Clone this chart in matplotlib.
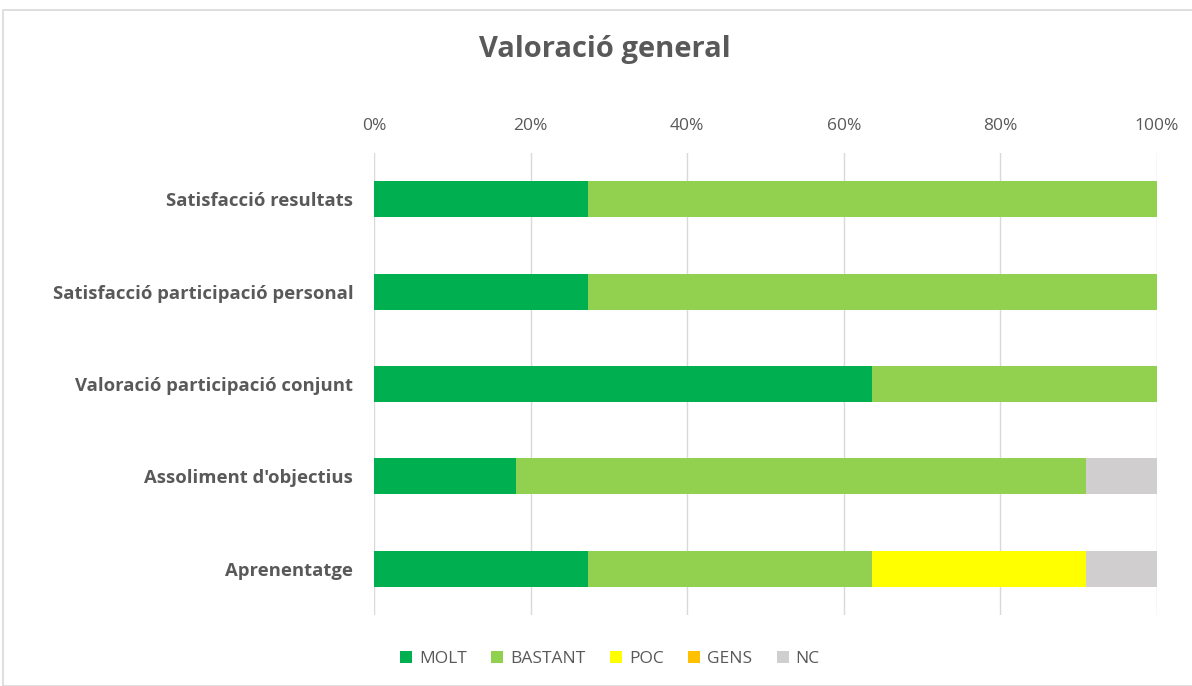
import matplotlib
matplotlib.use("Agg")
import matplotlib.pyplot as plt
from matplotlib.patches import Rectangle
import numpy as np

categories = ["Satisfacció resultats", "Satisfacció participació personal",
              "Valoració participació conjunt", "Assoliment d'objectius", "Aprenentatge"]
series_names = ["MOLT", "BASTANT", "POC", "GENS", "NC"]
molt = [3, 3, 7, 2, 3]
bastant = [8, 8, 4, 8, 4]
poc = [0, 0, 0, 0, 3]
gens = [0, 0, 0, 0, 0]
nc = [0, 0, 0, 1, 1]
colors = ["#00B050", "#92D050", "#FFFF00", "#FFC000", "#D0CECE"]
xticks = [0, 0.2, 0.4, 0.6, 0.8, 1.0]
xtick_labels = ["0%", "20%", "40%", "60%", "80%", "100%"]

plt.rcParams['font.family'] = ['Open Sans', 'DejaVu Sans']

fig = plt.figure(figsize=(11.92, 6.86), dpi=100)
fig.patches.append(Rectangle((3/1192, 0), 1.0, 1 - 10/686, transform=fig.transFigure,
                             fill=False, edgecolor="#D9D9D9", linewidth=1.2, zorder=0))
ax = fig.add_axes([374/1192, 1 - 615/686, 783/1192, 462/686])

data = np.array([molt, bastant, poc, gens, nc], dtype=float)
totals = data.sum(axis=0)
frac = data / totals
y = np.arange(len(categories))
left = np.zeros(len(categories))
for name, vals, c in zip(series_names, frac, colors):
    ax.barh(y, vals, left=left, height=0.39, color=c, label=name, zorder=3)
    left += vals

ax.set_xlim(0, 1)
ax.set_ylim(len(categories) - 0.5, -0.5)
ax.set_xticks(xticks)
ax.set_xticklabels(xtick_labels)
ax.xaxis.tick_top()
ax.tick_params(axis='x', length=0, pad=14, labelsize=12.5, labelcolor="#595959")
ax.set_yticks(y)
ax.set_yticklabels(categories, fontweight='bold', fontsize=13.3, color="#595959")
ax.tick_params(axis='y', length=0, pad=15)
ax.grid(axis='x', color="#D9D9D9", linewidth=1, zorder=0)
for s in ax.spines.values():
    s.set_visible(False)

fig.text(605/1192, 1 - 49/686, "Valoració general", ha='center', va='center',
         fontsize=21, fontweight='bold', color="#595959")

leg = fig.legend(loc='center', bbox_to_anchor=(610/1192, 1 - 659/686), ncol=5,
                 frameon=False, fontsize=12.5, handlelength=0.7, handleheight=0.7,
                 columnspacing=1.4, handletextpad=0.4)
for t in leg.get_texts():
    t.set_color("#595959")

fig.savefig("out.png", dpi=100)
